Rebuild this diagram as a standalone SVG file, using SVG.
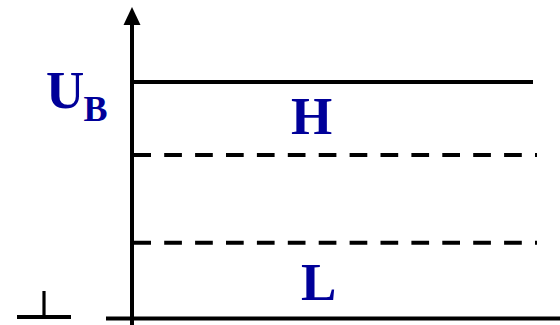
<svg xmlns="http://www.w3.org/2000/svg" width="560" height="325" viewBox="0 0 560 325">
<style>
.ln{stroke:#000;stroke-width:4;fill:none}
.dash{stroke:#000;stroke-width:4;fill:none;stroke-dasharray:17.7 13.2}
.lbl{font-family:"Liberation Serif","Times New Roman",serif;font-weight:bold;fill:#000099}
</style>
<rect width="560" height="325" fill="#fff"/>
<g id="axes">
<line class="ln" x1="132" y1="22" x2="132" y2="325"/>
<polygon points="132,7 123.5,25 140.5,25" fill="#000"/>
<line class="ln" x1="106" y1="318.5" x2="560" y2="318.5"/>
</g>
<g id="levels">
<line class="ln" x1="132" y1="82" x2="533" y2="82"/>
<line class="dash" x1="133.3" y1="155" x2="537" y2="155"/>
<line class="dash" x1="133.3" y1="242.7" x2="537" y2="242.7"/>
</g>
<g id="ground">
<line x1="44" y1="291" x2="44" y2="317" stroke="#000" stroke-width="3.2"/>
<line class="ln" x1="17" y1="317" x2="71" y2="317"/>
</g>
<g id="label-ub">
<text class="lbl" x="46" y="108" font-size="53">U</text>
<text class="lbl" x="83.5" y="121" font-size="36">B</text>
</g>
<g id="label-h"><text class="lbl" x="291" y="134" font-size="53">H</text></g>
<g id="label-l"><text class="lbl" x="301" y="300" font-size="53">L</text></g>
</svg>
